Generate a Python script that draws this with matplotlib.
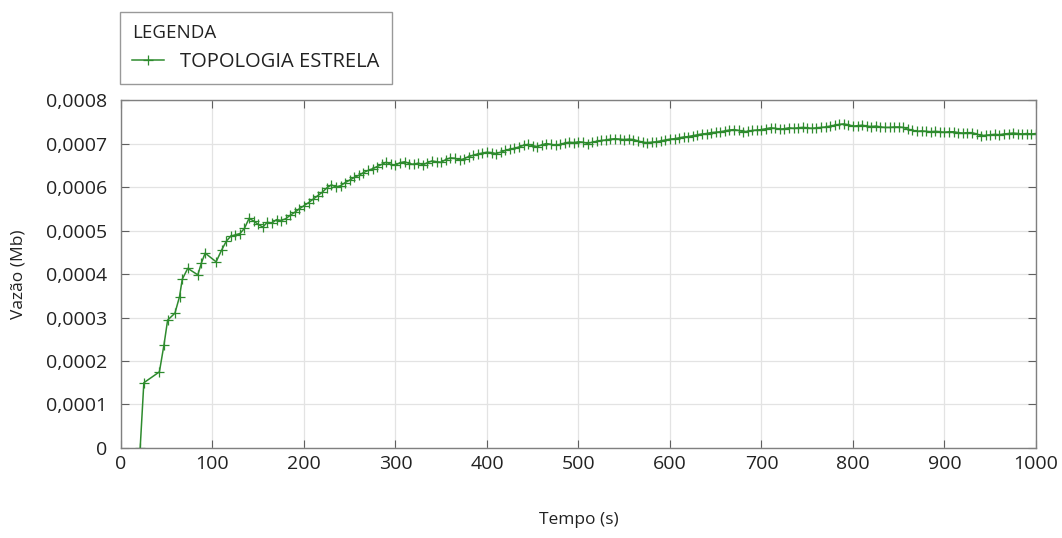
import numpy as np
import matplotlib.pyplot as plt
from matplotlib.ticker import FuncFormatter, MultipleLocator

plt.rcParams['font.family'] = ['Open Sans', 'DejaVu Sans']

# early samples (irregular spacing), Vazao in units of 1e-4 Mb
t_early = [21, 25, 42, 47, 51, 59, 64, 67, 73, 84, 88, 92, 104]
v_early = [0.00, 1.50, 1.75, 2.37, 2.94, 3.10, 3.48, 3.88, 4.13, 3.98, 4.26, 4.48, 4.28]

# later samples every 5 s from 110 to 1000
t_late = list(range(110, 1001, 5))
v_late = [
    4.55, 4.75, 4.87, 4.90, 4.93, 5.05, 5.28, 5.22, 5.14, 5.08,
    5.19, 5.17, 5.25, 5.23, 5.27, 5.35, 5.42, 5.50, 5.57, 5.64,
    5.72, 5.80, 5.88, 5.98, 6.05, 6.00, 6.03, 6.10, 6.16, 6.22,
    6.27, 6.33, 6.38, 6.42, 6.47, 6.52, 6.57, 6.52, 6.50, 6.56,
    6.58, 6.54, 6.52, 6.55, 6.51, 6.56, 6.60, 6.58, 6.57, 6.63,
    6.67, 6.66, 6.62, 6.65, 6.70, 6.73, 6.76, 6.78, 6.80, 6.79,
    6.77, 6.80, 6.84, 6.87, 6.89, 6.92, 6.96, 6.98, 6.95, 6.93,
    6.97, 7.00, 6.98, 6.96, 6.98, 7.01, 7.03, 7.02, 7.04, 7.03,
    7.00, 7.03, 7.05, 7.07, 7.08, 7.10, 7.11, 7.10, 7.09, 7.10,
    7.09, 7.06, 7.03, 7.02, 7.03, 7.04, 7.06, 7.08, 7.10, 7.11,
    7.13, 7.15, 7.16, 7.18, 7.20, 7.22, 7.23, 7.25, 7.26, 7.27,
    7.29, 7.31, 7.32, 7.30, 7.27, 7.28, 7.30, 7.31, 7.32, 7.34,
    7.36, 7.35, 7.33, 7.34, 7.36, 7.35, 7.36, 7.37, 7.36, 7.35,
    7.36, 7.37, 7.38, 7.40, 7.42, 7.44, 7.45, 7.43, 7.40, 7.41,
    7.42, 7.40, 7.39, 7.40, 7.38, 7.37, 7.37, 7.38, 7.38, 7.37,
    7.33, 7.30, 7.28, 7.29, 7.28, 7.27, 7.28, 7.27, 7.26, 7.27,
    7.27, 7.25, 7.24, 7.25, 7.25, 7.22, 7.18, 7.19, 7.20, 7.21,
    7.20, 7.22, 7.23, 7.24, 7.23, 7.22, 7.23, 7.22, 7.23,
]

tempo = np.array(t_early + t_late)
vazao = np.array(v_early + v_late) * 1e-4

fig = plt.figure(figsize=(10.62, 5.38), dpi=100)
ax = fig.add_axes([0.1139, 0.1673, 0.8616, 0.6468])

line, = ax.plot(tempo, vazao, color='#2e8b2e', linewidth=1.1, marker='+',
                markersize=7, markeredgewidth=0.9, label='TOPOLOGIA ESTRELA')

ax.set_xlim(0, 1000)
ax.set_ylim(0, 0.0008)
ax.xaxis.set_major_locator(MultipleLocator(100))
ax.yaxis.set_major_locator(MultipleLocator(0.0001))
ax.yaxis.set_major_formatter(FuncFormatter(
    lambda v, p: '0' if abs(v) < 1e-12 else f'{v:.4f}'.replace('.', ',')))

ax.grid(True, color='#e3e3e3', linewidth=0.9)
ax.set_axisbelow(True)
for s in ax.spines.values():
    s.set_color('#808080')
    s.set_linewidth(1.0)
ax.tick_params(direction='in', length=6, color='#606060', labelsize=14,
               top=True, right=True, labelcolor='#222222')
ax.tick_params(axis='y', pad=10)
ax.tick_params(axis='x', pad=5)

ax.set_xlabel('Tempo (s)', fontsize=12.5, color='#222222')
ax.xaxis.set_label_coords(0.5, -0.185)
ax.set_ylabel('Vazão (Mb)', fontsize=12.5, color='#222222')
ax.yaxis.set_label_coords(-0.103, 0.5)

leg = fig.legend(handles=[line], title='LEGENDA', loc='upper left',
                 bbox_to_anchor=(120 / 1062, 1 - 12 / 538), frameon=True,
                 fancybox=False, edgecolor='#808080', fontsize=14.5,
                 title_fontsize=13.5, alignment='left', handlelength=1.6,
                 borderpad=0.6, labelspacing=0.3, handletextpad=0.8,
                 borderaxespad=0)
leg.get_frame().set_linewidth(1.0)
leg._legend_box.sep = 7
for txt in leg.get_texts():
    txt.set_color('#222222')
leg.get_title().set_color('#222222')

fig.savefig('out.png', dpi=100)
